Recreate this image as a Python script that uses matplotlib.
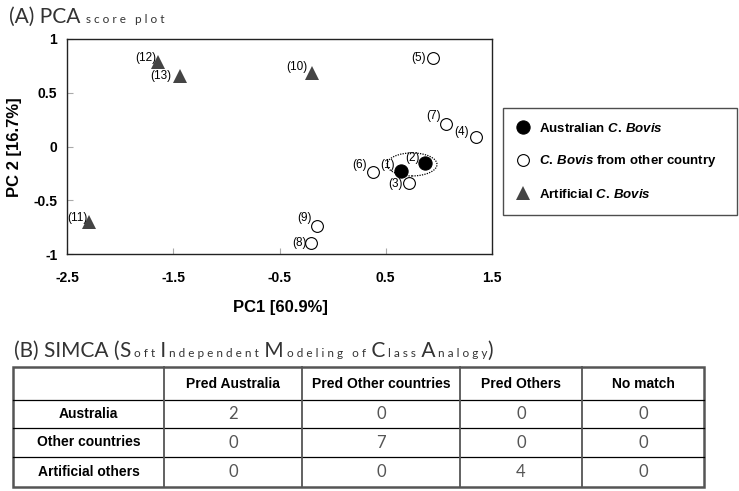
import matplotlib
matplotlib.use("Agg")
import matplotlib.pyplot as plt
from matplotlib.patches import Ellipse, Rectangle
from matplotlib.lines import Line2D

# PCA scores, samples (1)..(13)
sample_ids = ["(1)", "(2)", "(3)", "(4)", "(5)", "(6)", "(7)",
              "(8)", "(9)", "(10)", "(11)", "(12)", "(13)"]
pc1 = [0.64, 0.87, 0.72, 1.35, 0.945, 0.38, 1.07,
       -0.20, -0.147, -0.19, -2.29, -1.64, -1.44]
pc2 = [-0.23, -0.15, -0.34, 0.09, 0.82, -0.24, 0.21,
       -0.90, -0.74, 0.68, -0.70, 0.79, 0.66]
groups = ["au", "au", "ot", "ot", "ot", "ot", "ot",
          "ot", "ot", "ar", "ar", "ar", "ar"]

x_ticks = [-2.5, -1.5, -0.5, 0.5, 1.5]
y_ticks = [-1, -0.5, 0, 0.5, 1]

# SIMCA confusion table
col_labels = ["", "Pred Australia", "Pred Other countries", "Pred Others", "No match"]
row_labels = ["Australia", "Other countries", "Artificial others"]
simca_counts = [[2, 0, 0, 0],
                [0, 7, 0, 0],
                [0, 0, 4, 0]]

W, H = 739, 491
sans = "Liberation Sans"
thin = "Lato"

plt.rcParams["mathtext.fontset"] = "custom"
plt.rcParams["mathtext.it"] = sans + ":italic:bold"
plt.rcParams["mathtext.rm"] = sans + ":bold"

fig = plt.figure(figsize=(W / 100, H / 100), dpi=100)
ax = fig.add_axes([67 / W, 1 - 254 / H, 425 / W, 215 / H])

# label offsets in pixels (label right edge relative to marker)
offsets = [(-6, 6), (-5, 5), (-6, -1), (-7, 5), (-7, 0), (-6, 7), (-5, 8),
           (-5, 0), (-5, 8), (-5, 6), (-2, 4), (-2, 4), (-8, 0)]

styles = {
    "au": dict(marker="o", ms=9.5, mfc="black", mec="black", mew=0.8),
    "ot": dict(marker="o", ms=8.5, mfc="white", mec="black", mew=0.8),
    "ar": dict(marker="^", ms=10, mfc="#444444", mec="#444444", mew=0),
}
for x, y, g, lab, off in zip(pc1, pc2, groups, sample_ids, offsets):
    ax.plot([x], [y], ls="none", zorder=3, **styles[g])
    ax.annotate(lab, (x, y), xytext=off, textcoords="offset pixels",
                ha="right", va="center", fontsize=8.5, family=sans, zorder=4)

ax.add_patch(Ellipse((0.747, -0.167), 0.47, 0.214, fill=False,
                     ls=(0, (1, 1)), lw=0.9, ec="black", zorder=2))

ax.set_xlim(-2.5, 1.5)
ax.set_ylim(-1, 1)
ax.set_xticks(x_ticks)
ax.set_yticks(y_ticks)
ax.set_xticklabels([f"{t:g}" for t in x_ticks])
ax.set_yticklabels([f"{t:g}" for t in y_ticks])
ax.tick_params(direction="in", length=4, width=0.8, color="#aaaaaa",
               labelsize=10)
ax.tick_params(axis="x", pad=12)
ax.tick_params(axis="y", pad=7)
for t in ax.get_xticklabels() + ax.get_yticklabels():
    t.set_fontweight("bold")
    t.set_family(sans)
for s in ax.spines.values():
    s.set_linewidth(1.0)
    s.set_color("#222222")

ax.set_xlabel("PC1 [60.9%]", fontsize=12, fontweight="bold", family=sans)
ax.set_ylabel("PC 2 [16.7%]", fontsize=12, fontweight="bold", family=sans)
ax.xaxis.set_label_coords((280 - 67) / 425, -(300 - 254) / 215)
ax.yaxis.set_label_coords(-(67 - 22) / 425, (254 - 147) / 215)

# legend
handles = [Line2D([], [], ls="none", **styles["au"]),
           Line2D([], [], ls="none", **styles["ot"]),
           Line2D([], [], ls="none", **styles["ar"])]
labels = [r"Australian $\mathit{C.\,Bovis}$",
          r"$\mathit{C.\,Bovis}$ from other country",
          r"Artificial $\mathit{C.\,Bovis}$"]
leg = fig.legend(handles, labels, loc="upper left",
                 bbox_to_anchor=(503 / W, 1 - 108 / H, 234 / W, 0),
                 mode="expand", borderaxespad=0, borderpad=1.05,
                 handlelength=1.0, handletextpad=0.7, labelspacing=1.4,
                 fancybox=False, frameon=True,
                 prop=dict(family=sans, weight="bold", size=9.5))
leg.get_frame().set_edgecolor("#222222")
leg.get_frame().set_linewidth(1.0)


def chain(pieces, x0, y0):
    # pieces drawn one after another on a shared baseline
    prev = fig.text(x0, y0, pieces[0][0], fontsize=pieces[0][1], family=thin,
                    color="#333333", va="baseline")
    for txt, size in pieces[1:]:
        prev = ax.annotate(
            txt, xy=(1, y0), xycoords=(prev, "figure fraction"),
            fontsize=size, family=thin, color="#333333",
            va="baseline", ha="left", annotation_clip=False)


def spaced(word):
    return " ".join(word)


big, small = 15, 8.5
gap = "   "
chain([("(A) PCA", big), ("  " + spaced("score") + gap + spaced("plot"), small)],
      9 / W, 1 - 23 / H)
chain([("(B) SIMCA (", big), ("S", big), (" " + spaced("oft"), small),
       (" I", big), (" " + spaced("ndependent"), small),
       (" M", big), (" " + spaced("odeling") + gap + spaced("of"), small),
       (" C", big), (" " + spaced("lass"), small),
       (" A", big), (" " + spaced("nalogy"), small), (")", big)],
      14 / W, 1 - 357 / H)

# table
col_px = [13, 164, 302, 460, 582, 704]
row_px = [367, 400, 428, 457, 487]
tax = fig.add_axes([0, 0, 1, 1])
tax.set_axis_off()
tax.set_xlim(0, W)
tax.set_ylim(H, 0)

cells = [col_labels] + [[r] + [str(v) for v in vals]
                        for r, vals in zip(row_labels, simca_counts)]
for i, row in enumerate(cells):
    yc = (row_px[i] + row_px[i + 1]) / 2
    for j, txt in enumerate(row):
        xc = (col_px[j] + col_px[j + 1]) / 2
        if i == 0 or j == 0:
            tax.text(xc, yc, txt, ha="center", va="center", fontsize=10,
                     fontweight="bold", family=sans, color="black")
        else:
            tax.text(xc, yc, txt, ha="center", va="center", fontsize=12,
                     family=thin, color="#555555")

for y in row_px[1:-1]:
    tax.plot([col_px[0], col_px[-1]], [y, y], color="black", lw=0.9)
for x in col_px[1:-1]:
    tax.plot([x, x], [row_px[0], row_px[-1]], color="#555555", lw=1.3)
tax.add_patch(Rectangle((col_px[0], row_px[0]), col_px[-1] - col_px[0],
                        row_px[-1] - row_px[0], fill=False, ec="#555555",
                        lw=1.8))

fig.savefig("out.png", dpi=100)
